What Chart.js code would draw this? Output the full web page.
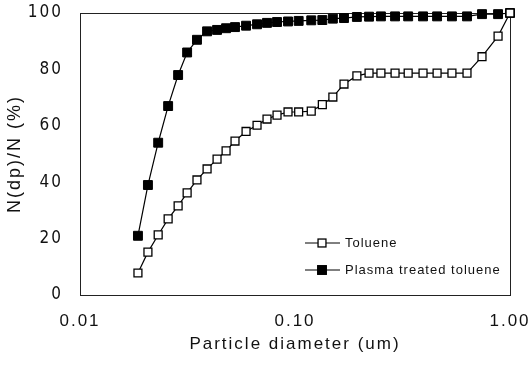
<!DOCTYPE html>
<html>
<head>
<meta charset="utf-8">
<script src="https://cdn.jsdelivr.net/npm/chart.js@4.4.1/dist/chart.umd.min.js"></script>
<style>
  html, body { margin: 0; padding: 0; background: #fff; }
  #wrap { width: 532px; height: 370px; }
</style>
</head>
<body>
<div id="wrap"><canvas id="chart"></canvas></div>
<script>
// Particle diameter (um), same channels for both series
const diameters = [0.0186, 0.0207, 0.0231, 0.0257, 0.0286, 0.0315, 0.035, 0.039, 0.0434, 0.0478,
    0.0526, 0.0592, 0.0666, 0.0741, 0.0825, 0.0928, 0.104, 0.119, 0.134, 0.150,
    0.169, 0.194, 0.221, 0.251, 0.292, 0.336, 0.394, 0.458, 0.537, 0.631,
    0.741, 0.880, 1.0];

// N(dp)/N (%)
const toluene = [7.8, 15.2, 21.3, 27.0, 31.6, 36.2, 40.8, 44.7, 48.2, 51.1,
    54.6, 58.0, 60.2, 62.4, 63.8, 64.9, 64.9, 65.2, 67.5, 70.2,
    74.8, 77.7, 78.7, 78.7, 78.7, 78.7, 78.7, 78.7, 78.7, 78.7,
    84.5, 91.8, 100];
const plasma = [21.0, 39.0, 54.0, 67.0, 78.0, 86.0, 90.5, 93.5, 94.0, 94.6,
    95.0, 95.5, 96.0, 96.5, 96.8, 97.0, 97.2, 97.4, 97.5, 98.0,
    98.2, 98.6, 98.7, 98.8, 98.8, 98.8, 98.8, 98.8, 98.8, 98.8,
    99.6, 99.6, 100];

const seriesLabels = ['Toluene', 'Plasma treated toluene'];
const xTicks = [0.01, 0.1, 1];
const xTickLabels = ['0.01', '0.10', '1.00'];

const sans = '"Liberation Sans", Arial, sans-serif';
const narrow = '"Liberation Sans Narrow", "DejaVu Sans Condensed", sans-serif';

function toPoints(values) {
    return diameters.map((d, i) => ({x: d, y: values[i]}));
}

// tick padding should not push the plot area inwards
function noEdgePadding(scale) {
    scale.paddingTop = 0;
    scale.paddingBottom = 0;
    scale.paddingLeft = 0;
    scale.paddingRight = 0;
}

// frame round the plot area
const frameBox = {
    id: 'frameBox',
    beforeDatasetsDraw(chart) {
        const {ctx, chartArea: a} = chart;
        ctx.save();
        ctx.strokeStyle = '#222';
        ctx.lineWidth = 1;
        ctx.strokeRect(a.left + 0.5, a.top + 0.5, a.right - a.left, a.bottom - a.top);
        ctx.restore();
    }
};

// spaced-out lettering like the scanned figure
const spacing = {
    id: 'spacing',
    beforeDraw(chart) { chart.ctx.letterSpacing = '2px'; },
    afterDraw(chart) { chart.ctx.letterSpacing = '0px'; }
};

// legend inside the lower right corner
const insideLegend = {
    id: 'insideLegend',
    afterDraw(chart) {
        const {ctx, chartArea: a} = chart;
        const x0 = a.right - 205;
        ctx.save();
        ctx.letterSpacing = '1px';
        ctx.font = '13px ' + sans;
        ctx.textBaseline = 'middle';
        chart.data.datasets.forEach((ds, i) => {
            const y = a.bottom - 52 + i * 27;
            ctx.strokeStyle = '#000';
            ctx.lineWidth = 1;
            ctx.beginPath();
            ctx.moveTo(x0, y);
            ctx.lineTo(x0 + 35, y);
            ctx.stroke();
            const s = ds.pointRadius * Math.SQRT1_2;
            ctx.fillStyle = ds.pointBackgroundColor;
            ctx.fillRect(x0 + 17 - s, y - s, 2 * s, 2 * s);
            ctx.lineWidth = ds.pointBorderWidth;
            ctx.strokeRect(x0 + 17 - s, y - s, 2 * s, 2 * s);
            ctx.fillStyle = '#111';
            ctx.fillText(ds.label, x0 + 40, y);
        });
        ctx.restore();
    }
};

new Chart(document.getElementById('chart'), {
    type: 'line',
    data: {
        datasets: [{
            label: seriesLabels[0],
            data: toPoints(toluene),
            borderColor: '#000',
            borderWidth: 1.2,
            pointStyle: 'rect',
            pointRadius: 5.6,
            pointBackgroundColor: '#fff',
            pointBorderColor: '#000',
            pointBorderWidth: 1.3,
            tension: 0,
            clip: false
        }, {
            label: seriesLabels[1],
            data: toPoints(plasma),
            borderColor: '#000',
            borderWidth: 1.2,
            pointStyle: 'rect',
            pointRadius: 6.3,
            pointBackgroundColor: '#000',
            pointBorderColor: '#000',
            pointBorderWidth: 1,
            tension: 0,
            clip: false
        }]
    },
    options: {
        responsive: true,
        maintainAspectRatio: false,
        animation: false,
        layout: {padding: {left: 0, right: 22, top: 13, bottom: 0}, autoPadding: false},
        plugins: {
            legend: {display: false},
            tooltip: {enabled: false}
        },
        scales: {
            x: {
                type: 'logarithmic',
                min: 0.01,
                max: 1,
                grid: {display: false, drawTicks: false},
                border: {display: false},
                afterBuildTicks: (scale) => {
                    scale.ticks = xTicks.map(v => ({value: v}));
                },
                afterFit: (scale) => {
                    scale.height = 75;
                    noEdgePadding(scale);
                },
                ticks: {
                    color: '#111',
                    font: {family: sans, size: 17},
                    padding: 16,
                    maxRotation: 0,
                    autoSkip: false,
                    callback: (value) => {
                        const i = xTicks.indexOf(value);
                        return i >= 0 ? xTickLabels[i] : '';
                    }
                },
                title: {
                    display: true,
                    text: 'Particle diameter (um)',
                    color: '#111',
                    font: {family: sans, size: 17},
                    padding: {top: 0, bottom: 15}
                }
            },
            y: {
                min: 0,
                max: 100,
                grid: {display: false, drawTicks: false},
                border: {display: false},
                afterFit: (scale) => {
                    scale.width = 80;
                    noEdgePadding(scale);
                },
                ticks: {
                    stepSize: 20,
                    color: '#111',
                    font: {family: narrow, size: 17},
                    padding: 17
                },
                title: {
                    display: true,
                    text: 'N(dp)/N (%)',
                    color: '#111',
                    font: {family: sans, size: 18},
                    padding: {top: 4, bottom: 0}
                }
            }
        }
    },
    plugins: [frameBox, spacing, insideLegend]
});
</script>
</body>
</html>
